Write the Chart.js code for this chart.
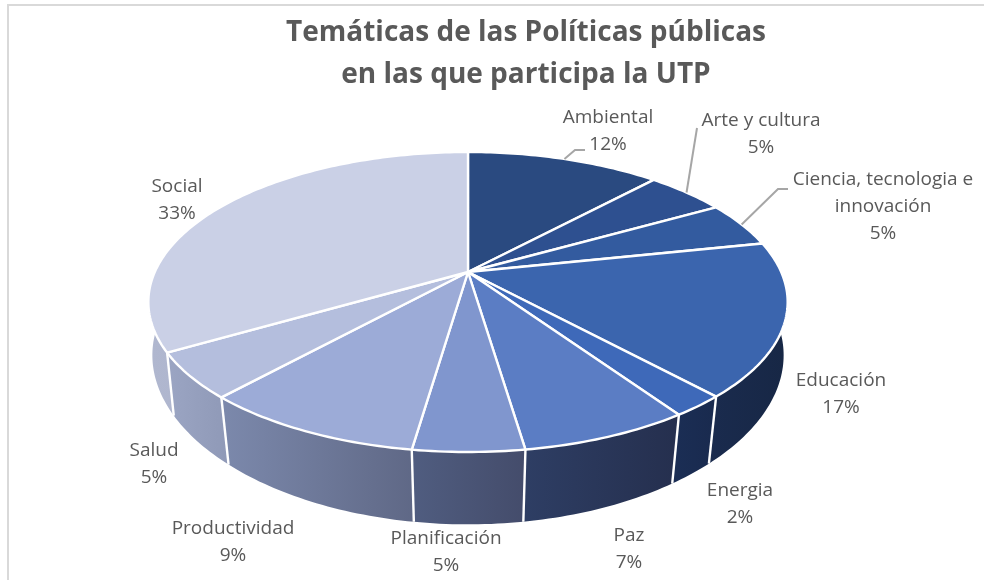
<!DOCTYPE html>
<html lang="es">
<head>
<meta charset="utf-8">
<style>html,body{margin:0;padding:0;background:#fff}canvas{display:block}</style>
<script src="https://cdn.jsdelivr.net/npm/chart.js@4"></script>
</head>
<body>
<canvas id="c" width="984" height="580"></canvas>
<script>
const categories = ["Ambiental","Arte y cultura","Ciencia, tecnologia e innovación","Educación","Energia","Paz","Planificación","Productividad","Salud","Social"];
const values = [11.9,4.9,4.9,16.5,2.3,7.15,4.65,9.4,4.9,33.4];
const titleLines = ["Temáticas de las Políticas públicas","en las que participa la UTP"];
const topColors = ["#2a4a80","#2e5090","#335b9f","#3b65ae","#3e69b9","#5b7dc4","#8096ce","#9cabd7","#b4bedd","#cad0e6"];
const wallLeft = ["#1a2d4e","#1a2d4e","#1b2f54","#1a2b4e","#1b2e55","#2e3e64","#505d80","#7c89ac","#9ba5c3","#b0b7cf"];
const wallRight = ["#16263f","#16263f","#182a4c","#172745","#192a4e","#252f4e","#444c6b","#5f6886","#8f99b7","#a4abc5"];
const labelLines = [["Ambiental"],["Arte y cultura"],["Ciencia, tecnologia e","innovación"],["Educación"],["Energia"],["Paz"],["Planificación"],["Productividad"],["Salud"],["Social"]];
const labelAnchors = [[608,118],[761,121],[883,180],[841,381],[740,491],[629,536],[446,539],[233,529],[154,451],[177,187]];
const leaderElbows = {0:[[575,150],[585,150]],1:[[697,128]],2:[[778,189],[788,189]]};

const CX=468, CY=272, A=313.2, B=144, K=-0.2;
function projTop(a){const X=Math.cos(a),Y=Math.sin(a),w=1+K*Y;return [CX+A*X/w,CY+B*Y/w];}
function projBottom(a){const p=projTop(a),s=0.993-0.03*Math.sin(a);return [CX+(p[0]-CX)*s,p[1]+60+(p[1]-322)*0.095];}
function arcPts(f,s,e){const n=Math.max(2,Math.ceil((e-s)/(Math.PI/180)));const r=[];for(let i=0;i<=n;i++)r.push(f(s+(e-s)*i/n));return r;}
function trace(ctx,pts,move){pts.forEach((p,i)=>{(i===0&&move)?ctx.moveTo(p[0],p[1]):ctx.lineTo(p[0],p[1]);});}

const frame3d = {
  id:'frame3d',
  beforeDraw(chart){
    const ctx=chart.ctx;ctx.save();ctx.fillStyle='#fff';ctx.fillRect(0,0,chart.width,chart.height);
    ctx.strokeStyle='#d9d9d9';ctx.lineWidth=2;ctx.beginPath();ctx.moveTo(8,580);ctx.lineTo(8,5);ctx.lineTo(984,5);ctx.stroke();ctx.restore();
  },
  beforeDatasetDraw(chart,args){
    const ctx=chart.ctx, arcs=chart.getDatasetMeta(args.index).data;
    ctx.save();ctx.lineJoin='round';
    arcs.forEach((el,i)=>{
      const top=arcPts(projTop,el.startAngle,el.endAngle), bot=arcPts(projBottom,el.startAngle,el.endAngle);
      const xs=top.concat(bot).map(p=>p[0]);
      const g=ctx.createLinearGradient(Math.min(...xs),0,Math.max(...xs),0);
      g.addColorStop(0,wallLeft[i]);g.addColorStop(1,wallRight[i]);
      ctx.beginPath();trace(ctx,top,true);trace(ctx,bot.slice().reverse(),false);ctx.closePath();
      ctx.fillStyle=g;ctx.fill();
    });
    ctx.strokeStyle='#fff';ctx.lineWidth=2.4;
    arcs.forEach(el=>{
      const t=projTop(el.startAngle),b=projBottom(el.startAngle);
      ctx.beginPath();ctx.moveTo(t[0],t[1]);ctx.lineTo(b[0],b[1]);ctx.stroke();
    });
    arcs.forEach(el=>{
      ctx.beginPath();ctx.moveTo(CX,CY);trace(ctx,arcPts(projTop,el.startAngle,el.endAngle),false);ctx.closePath();
      ctx.fillStyle=el.options.backgroundColor;ctx.fill();
      ctx.strokeStyle='#fff';ctx.lineWidth=2.4;ctx.stroke();
    });
    ctx.restore();
    return false;
  },
  afterDatasetsDraw(chart){
    const ctx=chart.ctx, arcs=chart.getDatasetMeta(0).data, vals=chart.data.datasets[0].data;
    ctx.save();
    ctx.strokeStyle='#a6a6a6';ctx.lineWidth=2;
    Object.keys(leaderElbows).forEach(k=>{
      const el=arcs[k], s=projTop((el.startAngle+el.endAngle)/2);
      ctx.beginPath();ctx.moveTo(s[0],s[1]);leaderElbows[k].forEach(p=>ctx.lineTo(p[0],p[1]));ctx.stroke();
    });
    ctx.fillStyle='#595959';ctx.font='19px "Open Sans"';ctx.textAlign='center';ctx.textBaseline='middle';
    labelLines.forEach((lines,i)=>{
      const [x,y]=labelAnchors[i];
      lines.concat([Math.round(vals[i])+'%']).forEach((t,j)=>ctx.fillText(t,x,y+j*27));
    });
    ctx.restore();
  }
};

new Chart(document.getElementById('c'),{
  type:'pie',
  data:{labels:categories,datasets:[{data:values,backgroundColor:topColors,borderColor:'#fff',borderWidth:2}]},
  options:{
    responsive:false,animation:false,
    layout:{padding:{left:68}},
    plugins:{
      legend:{display:false},tooltip:{enabled:false},
      title:{display:true,text:titleLines,color:'#595959',
        font:{family:'"Open Sans"',size:28,weight:'bold',lineHeight:1.5},
        padding:{top:12,bottom:0}}
    }
  },
  plugins:[frame3d]
});
</script>
</body>
</html>
